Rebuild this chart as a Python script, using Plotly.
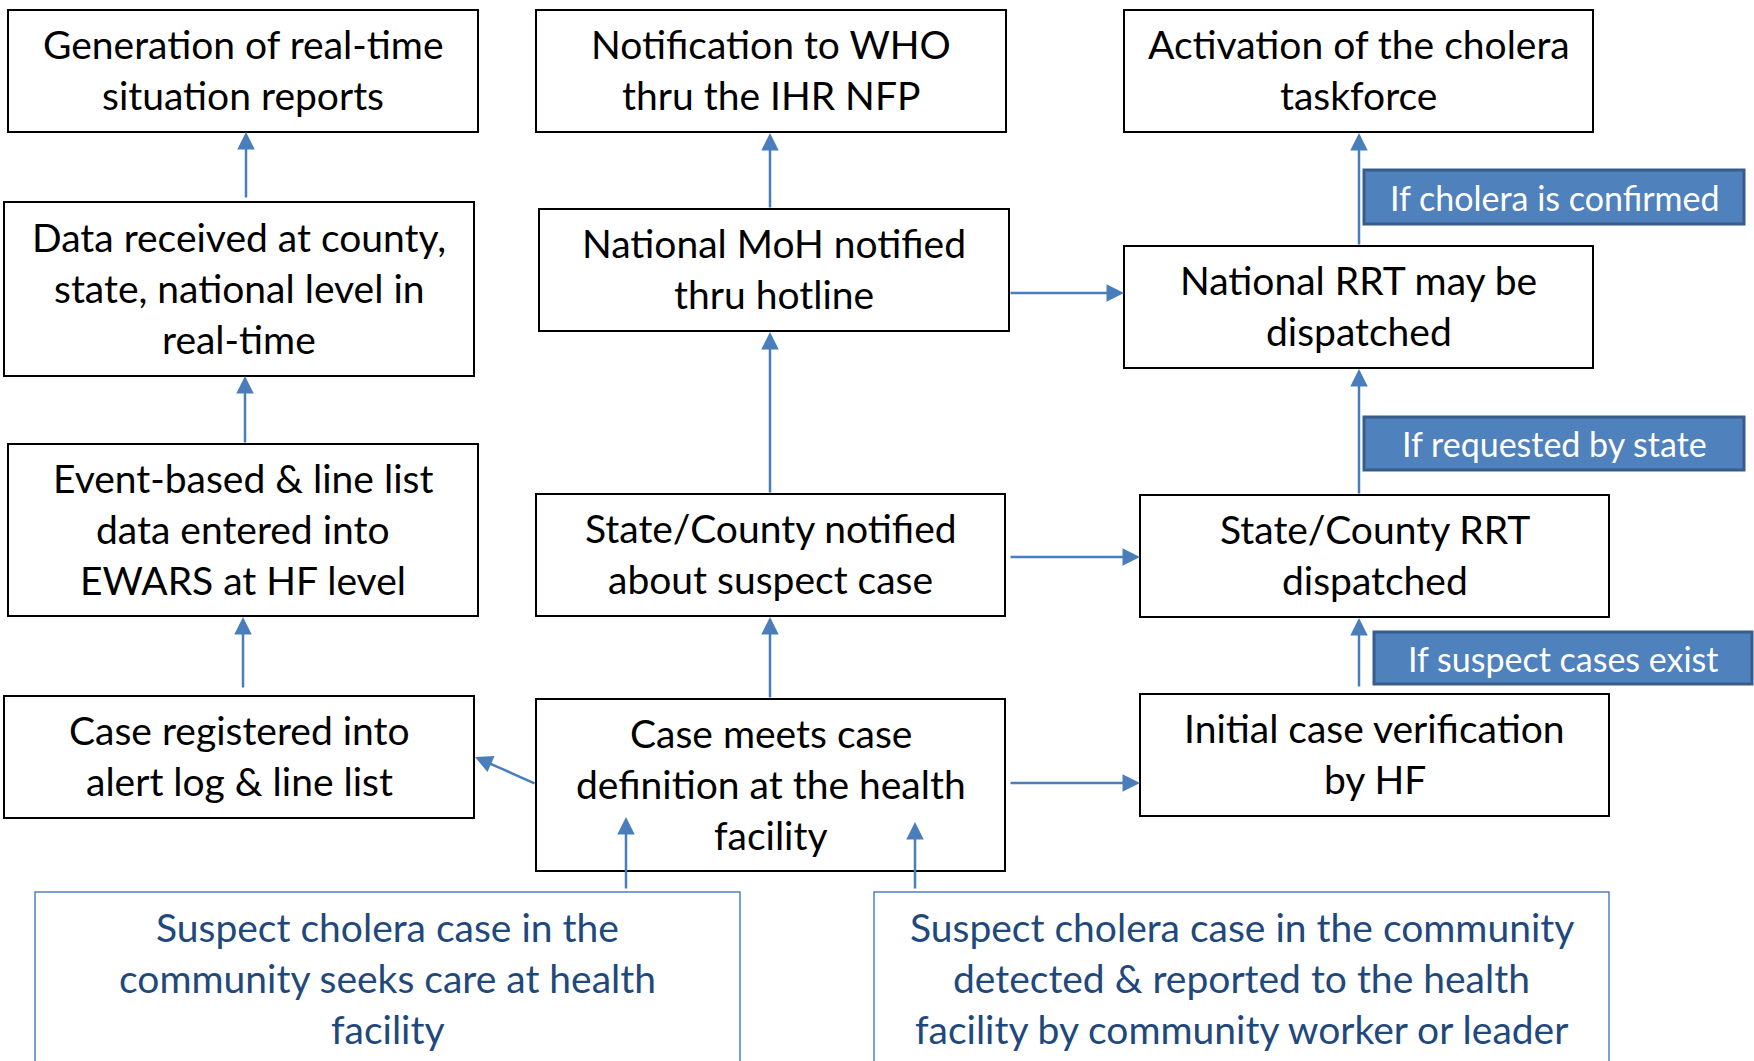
import plotly.graph_objects as go

# ---- text content ----
box_ids = ["gen", "who", "task", "data", "moh", "nrrt", "event", "statenot",
           "srrt", "reg", "meets", "init"]
box_texts = [
    ["Generation of real-time", "situation reports"],
    ["Notification to WHO", "thru the IHR NFP"],
    ["Activation of the cholera", "taskforce"],
    ["Data received at county,", "state, national level in", "real-time"],
    ["National MoH notified", "thru hotline"],
    ["National RRT may be", "dispatched"],
    ["Event-based & line list", "data entered into", "EWARS at HF level"],
    ["State/County notified", "about suspect case"],
    ["State/County RRT", "dispatched"],
    ["Case registered into", "alert log & line list"],
    ["Case meets case", "definition at the health", "facility"],
    ["Initial case verification", "by HF"],
]
source_ids = ["susp1", "susp2"]
source_texts = [
    ["Suspect cholera case in the", "community seeks care at health", "facility"],
    ["Suspect cholera case in the community", "detected & reported to the health",
     "facility by community worker or leader"],
]
cond_ids = ["conf", "req", "exist"]
cond_texts = ["If cholera is confirmed", "If requested by state", "If suspect cases exist"]

# ---- layout geometry (pixels, y downward) ----
geom = {
    "gen": (8, 478, 10, 132), "who": (536, 1006, 10, 132), "task": (1124, 1593, 10, 132),
    "data": (4, 474, 202, 376), "moh": (539, 1009, 209, 331), "nrrt": (1124, 1593, 246, 368),
    "event": (8, 478, 444, 616), "statenot": (536, 1005, 494, 616), "srrt": (1140, 1609, 495, 617),
    "reg": (4, 474, 696, 818), "meets": (536, 1005, 699, 871), "init": (1140, 1609, 694, 816),
    "susp1": (35, 740, 892, 1080), "susp2": (874, 1609, 892, 1080),
    "conf": (1364, 1744, 170, 224), "req": (1364, 1744, 417, 470), "exist": (1374, 1752, 632, 684),
}
# arrows: (tail_x, tail_y, tip_x, tip_y)
arrows = [
    (246, 199, 246, 132), (245, 444, 245, 376), (243, 689, 243, 617),
    (536, 784, 475, 757), (770, 699, 770, 617), (770, 494, 770, 332),
    (770, 209, 770, 133), (1009, 293, 1124, 293), (1359, 246, 1359, 133),
    (1009, 557, 1140, 557), (1359, 495, 1359, 369), (1359, 688, 1359, 618),
    (1009, 783, 1140, 783), (626, 890, 626, 817), (915, 890, 915, 822),
]

W, H = 1754, 1061
FONT = "Lato"
LINE = 51
ARROW_COLOR = "#4a7ebb"

fig = go.Figure()
shapes = []
annotations = []

for bid, lines in zip(box_ids, box_texts):
    x0, x1, y0, y1 = geom[bid]
    shapes.append(dict(type="rect", x0=x0, x1=x1, y0=y0, y1=y1,
                       line=dict(color="black", width=2), fillcolor="white", layer="below"))
    cy = (y0 + y1) / 2 - 1.5
    n = len(lines)
    for i, t in enumerate(lines):
        annotations.append(dict(x=(x0 + x1) / 2, y=cy + (i - (n - 1) / 2) * LINE, text=t,
                                showarrow=False, xanchor="center", yanchor="middle",
                                font=dict(family=FONT, size=39, color="black")))

for sid, lines in zip(source_ids, source_texts):
    x0, x1, y0, y1 = geom[sid]
    shapes.append(dict(type="rect", x0=x0, x1=x1, y0=y0, y1=y1,
                       line=dict(color="#4f81bd", width=1.5), fillcolor="white", layer="below"))
    for i, t in enumerate(lines):
        annotations.append(dict(x=(x0 + x1) / 2, y=y0 + 35 + i * LINE, text=t,
                                showarrow=False, xanchor="center", yanchor="middle",
                                font=dict(family=FONT, size=39, color="#1f497d")))

for cid, t in zip(cond_ids, cond_texts):
    x0, x1, y0, y1 = geom[cid]
    shapes.append(dict(type="rect", x0=x0, x1=x1, y0=y0, y1=y1,
                       line=dict(color="#385d8a", width=3), fillcolor="#4f81bd"))
    annotations.append(dict(x=(x0 + x1) / 2, y=(y0 + y1) / 2, text=t,
                            showarrow=False, xanchor="center", yanchor="middle",
                            font=dict(family=FONT, size=34, color="white")))

for tx, ty, hx, hy in arrows:
    annotations.append(dict(x=hx, y=hy, ax=tx, ay=ty, xref="x", yref="y",
                            axref="x", ayref="y", text="", showarrow=True,
                            arrowhead=2, arrowsize=1.4, arrowwidth=2.5,
                            arrowcolor=ARROW_COLOR, standoff=0, startstandoff=0))

fig.update_layout(
    width=W, height=H, margin=dict(l=0, r=0, t=0, b=0),
    paper_bgcolor="white", plot_bgcolor="white",
    xaxis=dict(range=[0, W], visible=False, fixedrange=True),
    yaxis=dict(range=[H, 0], visible=False, fixedrange=True),
    shapes=shapes, annotations=annotations, showlegend=False,
)

fig.write_html("out.html", config={"displayModeBar": False},
               post_script="document.body.style.margin='0';")
